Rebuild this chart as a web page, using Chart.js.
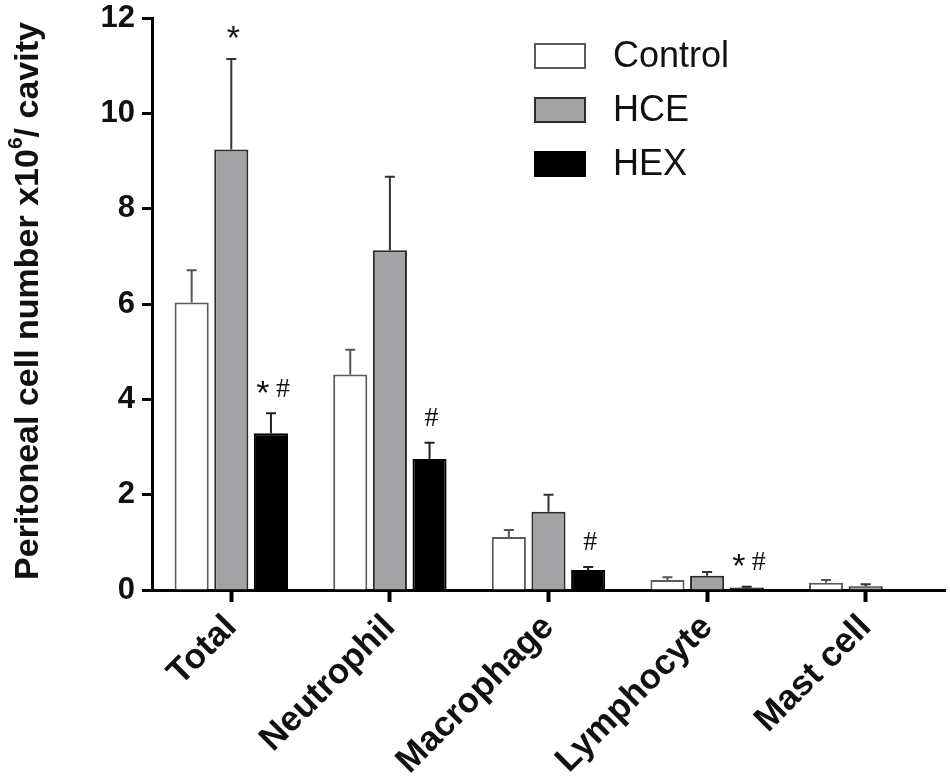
<!DOCTYPE html>
<html lang="en">
  <head>
    <meta charset="UTF-8" />
    <title>Peritoneal cell number</title>
    <script src="https://cdn.jsdelivr.net/npm/chart.js"></script>
    <style>
      html, body { margin: 0; padding: 0; background: #fff; }
      #wrap { width: 950px; height: 777px; }
    </style>
  </head>
  <body>
    <div id="wrap"><canvas id="cellChart" width="950" height="777"></canvas></div>

<script>
// categories and values (x10^6 / cavity)
const categories = ["Total", "Neutrophil", "Macrophage", "Lymphocyte", "Mast cell"];
const groupNames = ["Control", "HCE", "HEX"];

const controlMean = [6.03, 4.52, 1.11, 0.21, 0.15];
const controlSem  = [0.68, 0.52, 0.15, 0.06, 0.06];
const hceMean     = [9.24, 7.13, 1.64, 0.30, 0.08];
const hceSem      = [1.90, 1.54, 0.36, 0.08, 0.04];
const hexMean     = [3.29, 2.75, 0.42, 0.05, 0.01];
const hexSem      = [0.42, 0.34, 0.06, 0.02, 0.00];

// significance marks drawn above the error bars
const controlSig = ["", "", "", "", ""];
const hceSig     = ["*", "", "", "", ""];
const hexSig     = ["*#", "#", "#", "*#", ""];

const yTicks = [0, 2, 4, 6, 8, 10, 12];

document.addEventListener("DOMContentLoaded", function () {
  const SANS = "'Liberation Sans', Arial, sans-serif";
  const SERIF = "'Liberation Serif', 'Times New Roman', serif";

  // error bars (upper only) + significance marks
  const errorBars = {
    id: "errorBars",
    afterDatasetsDraw(chart) {
      const ctx = chart.ctx;
      const y = chart.scales.y;
      chart.data.datasets.forEach((ds, i) => {
        const meta = chart.getDatasetMeta(i);
        meta.data.forEach((bar, j) => {
          const top = y.getPixelForValue(ds.data[j] + ds.sem[j]);
          ctx.save();
          ctx.strokeStyle = ds.errColor;
          ctx.lineWidth = 2;
          if (ds.sem[j] > 0) {
            ctx.beginPath();
            ctx.moveTo(bar.x, bar.y);
            ctx.lineTo(bar.x, top);
            ctx.moveTo(bar.x - 5, top);
            ctx.lineTo(bar.x + 5, top);
            ctx.stroke();
          }
          // significance
          const mark = ds.sig[j];
          if (mark) {
            ctx.fillStyle = "#111";
            ctx.textAlign = "center";
            ctx.textBaseline = "middle";
            const my = top - 24;
            const chars = mark.split("");
            const step = 20;
            const x0 = bar.x + 2 - (chars.length - 1) * step / 2;
            chars.forEach((c, k) => {
              if (c === "*") {
                ctx.font = "34px " + SANS;
                ctx.fillText(c, x0 + k * step, my + 5);
              } else {
                ctx.font = "28px " + SERIF;
                ctx.fillText(c, x0 + k * step, my);
              }
            });
          }
          ctx.restore();
        });
      });
    }
  };

  // legend in the top right corner of the plot
  const boxLegend = {
    id: "boxLegend",
    afterDraw(chart) {
      const ctx = chart.ctx;
      const left = chart.chartArea.left + 383;
      const top = chart.chartArea.top + 26;
      ctx.save();
      chart.data.datasets.forEach((ds, i) => {
        const by = top + i * 54;
        ctx.fillStyle = ds.backgroundColor;
        ctx.fillRect(left, by, 50, 24);
        ctx.strokeStyle = ds.borderColor;
        ctx.lineWidth = 2;
        ctx.strokeRect(left, by, 50, 24);
        ctx.fillStyle = "#111";
        ctx.font = "36px " + SANS;
        ctx.textAlign = "left";
        ctx.textBaseline = "middle";
        ctx.fillText(ds.label, left + 78, by + 13);
      });
      ctx.restore();
    }
  };

  // y axis title with superscript 6
  const yTitle = {
    id: "yTitle",
    afterDraw(chart) {
      const ctx = chart.ctx;
      const a = "Peritoneal cell number x10";
      const sup = "6";
      const b = "/ cavity";
      ctx.save();
      ctx.translate(29, 301);
      ctx.rotate(-Math.PI / 2);
      ctx.fillStyle = "#111";
      ctx.textBaseline = "middle";
      ctx.textAlign = "left";
      ctx.font = "bold 34px " + SANS;
      const wa = ctx.measureText(a).width;
      const wb = ctx.measureText(b).width;
      ctx.font = "bold 21px " + SANS;
      const ws = ctx.measureText(sup).width;
      const x0 = -(wa + ws + wb) / 2;
      ctx.font = "bold 34px " + SANS;
      ctx.fillText(a, x0, 0);
      ctx.font = "bold 21px " + SANS;
      ctx.fillText(sup, x0 + wa, -13);
      ctx.font = "bold 34px " + SANS;
      ctx.fillText(b, x0 + wa + ws, 0);
      ctx.restore();
    }
  };

  new Chart(document.getElementById("cellChart"), {
    type: "bar",
    data: {
      labels: categories,
      datasets: [
        {
          label: groupNames[0],
          data: controlMean,
          sem: controlSem,
          sig: controlSig,
          backgroundColor: "#ffffff",
          borderColor: "#5a5a5a",
          errColor: "#555555",
          borderWidth: 2
        },
        {
          label: groupNames[1],
          data: hceMean,
          sem: hceSem,
          sig: hceSig,
          backgroundColor: "#a3a3a6",
          borderColor: "#2a2a2a",
          errColor: "#333333",
          borderWidth: 2
        },
        {
          label: groupNames[2],
          data: hexMean,
          sem: hexSem,
          sig: hexSig,
          backgroundColor: "#000000",
          borderColor: "#000000",
          errColor: "#222222",
          borderWidth: 2
        }
      ]
    },
    options: {
      responsive: false,
      animation: false,
      devicePixelRatio: 1,
      categoryPercentage: 0.75,
      barPercentage: 0.86,
      layout: {
        padding: { top: 18, right: 5, left: 0, bottom: 0 }
      },
      plugins: {
        legend: { display: false },
        tooltip: { enabled: false }
      },
      scales: {
        x: {
          offset: true,
          border: { color: "#000", width: 3 },
          grid: {
            offset: false,
            drawOnChartArea: false,
            color: "#000",
            tickLength: 12,
            tickWidth: 4
          },
          ticks: {
            color: "#111",
            minRotation: 45,
            maxRotation: 45,
            padding: 5,
            font: { family: SANS, size: 35, weight: "bold" }
          },
          afterFit: (scale) => { scale.height = 187; }
        },
        y: {
          min: 0,
          max: 12,
          border: { color: "#000", width: 3 },
          grid: {
            drawOnChartArea: false,
            color: "#000",
            tickLength: 10,
            tickWidth: 3
          },
          afterBuildTicks: (scale) => {
            scale.ticks = yTicks.map(v => ({ value: v }));
          },
          ticks: {
            color: "#111",
            padding: 7,
            font: { family: SANS, size: 31, weight: "bold" }
          },
          afterFit: (scale) => {
            scale.width = 152;
            // let the "12" label overhang the plot top like the original
            scale.paddingTop = 0;
            scale.paddingBottom = 0;
          }
        }
      }
    },
    plugins: [errorBars, boxLegend, yTitle]
  });
});
</script>
  </body>
</html>
